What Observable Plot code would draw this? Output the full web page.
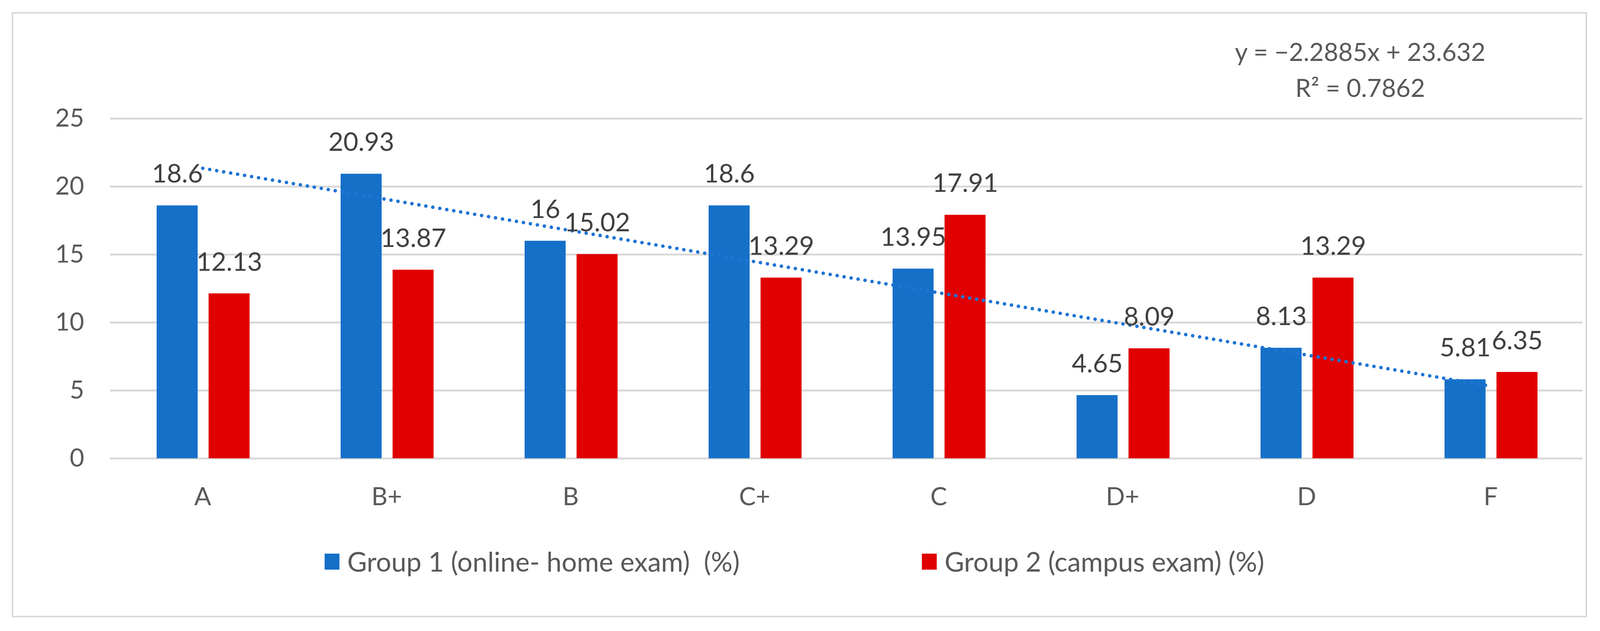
<!DOCTYPE html>
<html>
<head>
<meta charset="utf-8">
<script src="https://cdn.jsdelivr.net/npm/d3@7"></script>
<script src="https://cdn.jsdelivr.net/npm/@observablehq/plot@0.6"></script>
<style>
  html, body { margin: 0; padding: 0; background: #ffffff; width: 4096px; height: 1615px; overflow: hidden; }
  body { position: relative; font-family: Lato, "Open Sans", sans-serif; color: #595959; }
  #frame { position: absolute; left: 30px; top: 31px; width: 4033px; height: 1549px; box-sizing: border-box; border: 4px solid #d9d9d9; }
  #equation { position: absolute; left: 2982px; width: 1000px; top: 86px; text-align: center; font-size: 64px; line-height: 92px; color: #595959; white-space: nowrap; }
  #chart { position: absolute; left: 0; top: 0; }
  .legend-item { position: absolute; top: 1397px; height: 80px; display: flex; align-items: center; font-size: 69px; line-height: 80px; color: #595959; white-space: pre; }
  .swatch { width: 38px; height: 41px; margin-right: 20px; flex: none; }
</style>
</head>
<body>
<div id="frame"></div>
<div id="equation"></div>
<div id="chart"></div>
<div id="legend"></div>
<script>
// ---- data ----
const categories = ["A", "B+", "B", "C+", "C", "D+", "D", "F"];
const group1 = [18.6, 20.93, 16, 18.6, 13.95, 4.65, 8.13, 5.81];
const group2 = [12.13, 13.87, 15.02, 13.29, 17.91, 8.09, 13.29, 6.35];
const yTicks = [0, 5, 10, 15, 20, 25];
const seriesNames = ["Group 1 (online- home exam)  (%)", "Group 2 (campus exam) (%)"];
const seriesColors = ["#1570c8", "#e00000"];
const trendSlope = -2.2885;
const trendIntercept = 23.632;
const trendR2 = 0.7862;
const equationLines = ["y = \u22122.2885x + 23.632", "R\u00B2 = 0.7862"];

// ---- tables built from the arrays ----
const g1 = categories.map((c, i) => ({cat: c, v: group1[i]}));
const g2 = categories.map((c, i) => ({cat: c, v: group2[i]}));
// linear trendline of group 1 (Excel: x = 1..n)
const trend = categories.map((c, i) => ({cat: c, y: trendIntercept + trendSlope * (i + 1)}));

const plot = Plot.plot({
  width: 4096,
  height: 1340,
  marginLeft: 282,
  marginRight: 45,
  marginTop: 303,
  marginBottom: 167,
  style: {fontFamily: "Lato, 'Open Sans', sans-serif", fontSize: "64px", color: "#595959", background: "transparent", overflow: "visible"},
  x: {domain: categories, padding: 0, label: null},
  y: {domain: [0, 25], label: null},
  marks: [
    Plot.gridY(yTicks, {stroke: "#d9d9d9", strokeOpacity: 1, strokeWidth: 5}),
    Plot.axisY(yTicks, {tickSize: 0, tickPadding: 67, fill: "#595959", stroke: "#bfbfbf", strokeWidth: 4, line: true, label: null}),
    Plot.axisX({tickSize: 0, tickPadding: 74, fill: "#595959", label: null}),
    Plot.barY(g1, {x: "cat", y: "v", fill: seriesColors[0], insetLeft: 118, insetRight: 248}),
    Plot.barY(g2, {x: "cat", y: "v", fill: seriesColors[1], insetLeft: 251, insetRight: 115}),
    Plot.line(trend, {x: "cat", y: "y", stroke: "#1f74d4", strokeWidth: 9, strokeDasharray: "0.1 18", strokeLinecap: "round"}),
    Plot.text(g1, {x: "cat", y: "v", text: d => String(d.v), dx: -65, dy: -80, fill: "#404040", fontSize: 66}),
    Plot.text(g2, {x: "cat", y: "v", text: d => String(d.v), dx: 68, dy: -80, fill: "#404040", fontSize: 66})
  ]
});
document.getElementById("chart").appendChild(plot);

// equation annotation
document.getElementById("equation").innerHTML = equationLines.map(s => `<div>${s}</div>`).join("");

// legend
const legendLefts = [831, 2360];
const legend = document.getElementById("legend");
seriesNames.forEach((name, i) => {
  const item = document.createElement("div");
  item.className = "legend-item";
  item.style.left = legendLefts[i] + "px";
  const sw = document.createElement("div");
  sw.className = "swatch";
  sw.style.background = seriesColors[i];
  const label = document.createElement("span");
  label.textContent = name;
  item.appendChild(sw);
  item.appendChild(label);
  legend.appendChild(item);
});
</script>
</body>
</html>
